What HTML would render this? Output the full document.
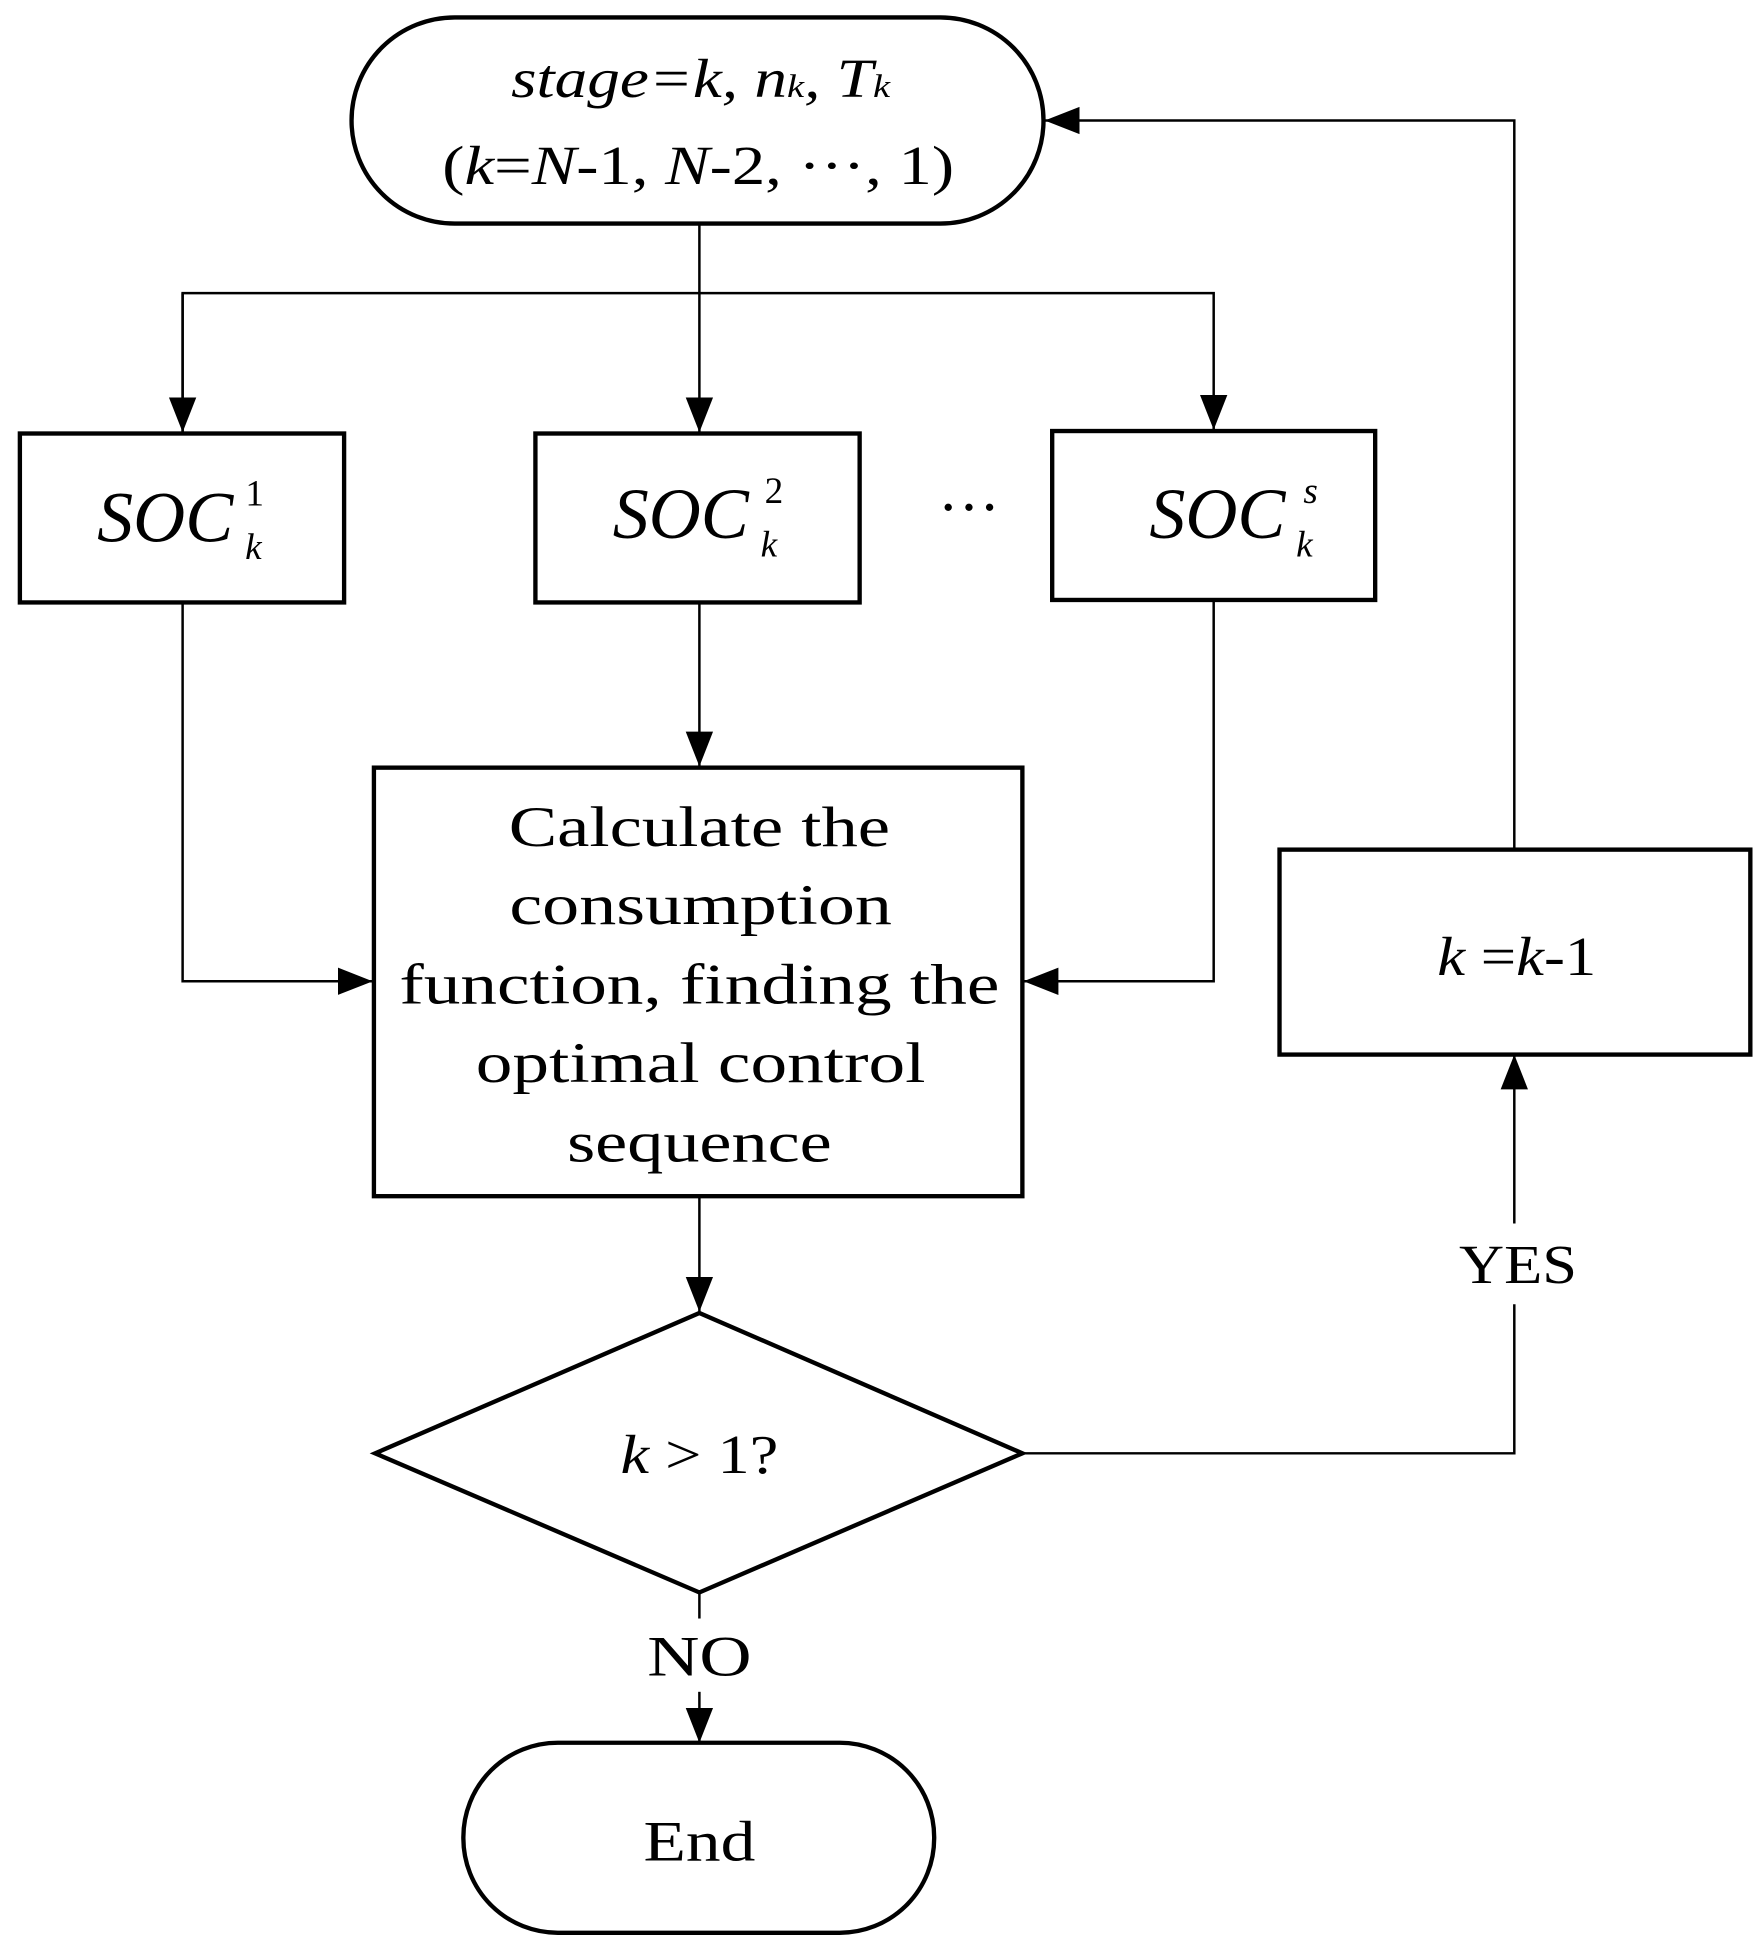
<!DOCTYPE html>
<html><head><style>html,body{margin:0;padding:0;background:#fff}svg{display:block}</style></head>
<body>
<svg width="1764" height="1939" viewBox="0 0 1420 1561" preserveAspectRatio="none" xmlns="http://www.w3.org/2000/svg" font-family="'Liberation Serif', serif">
<defs>
<marker id="b" markerWidth="28" markerHeight="28" refX="28" refY="14" orient="auto" markerUnits="userSpaceOnUse" viewBox="0 0 28 28"><path d="M0,3 L28,14 L0,25z" fill="#000"/></marker></defs>
<g fill="none" stroke="#000" stroke-width="2">
<line x1="563" y1="180" x2="563" y2="348" marker-end="url(#b)"/>
<polyline points="147,348 147,236 977,236 977,346" marker-end="url(#b)"/>
<line x1="147" y1="236" x2="147" y2="348" marker-end="url(#b)"/>
<polyline points="147,485 147,790 300,790" marker-end="url(#b)"/>
<polyline points="977,483 977,790 824,790" marker-end="url(#b)"/>
<line x1="563" y1="485" x2="563" y2="617" marker-end="url(#b)"/>
<line x1="563" y1="963" x2="563" y2="1056" marker-end="url(#b)"/>
<polyline points="823,1170 1219,1170 1219,1050"/>
<line x1="1219" y1="985" x2="1219" y2="849" marker-end="url(#b)"/>
<polyline points="1219,684 1219,97 841,97" marker-end="url(#b)"/>
<line x1="563" y1="1282" x2="563" y2="1303"/>
<line x1="563" y1="1362" x2="563" y2="1403" marker-end="url(#b)"/>
</g>
<g fill="#fff" stroke="#000" stroke-width="3.5">
<rect x="283" y="14" width="557" height="166" rx="83"/>
<rect x="16" y="349" width="261" height="136"/>
<rect x="431" y="349" width="261" height="136"/>
<rect x="847" y="347" width="260" height="136"/>
<rect x="301" y="618" width="522" height="345"/>
<rect x="1030" y="684" width="379" height="165"/>
<polygon points="563,1057 823,1170 563,1282 302,1170"/>
<rect x="373" y="1403" width="379" height="153" rx="76"/>
</g>
<g fill="#000" text-anchor="middle" font-size="44">
<text x="564" y="78" font-style="italic" textLength="305" lengthAdjust="spacingAndGlyphs">stage=k, n<tspan font-size="26">k</tspan>, T<tspan font-size="26">k</tspan></text>
<text x="562" y="148" textLength="412" lengthAdjust="spacingAndGlyphs">(<tspan font-style="italic">k</tspan>=<tspan font-style="italic">N</tspan>-1, <tspan font-style="italic">N</tspan>-2, ···, 1)</text>
<g font-style="italic" font-size="58">
<text x="133" y="436">SOC</text><text x="205" y="407" font-size="30" font-style="normal">1</text><text x="204" y="450" font-size="30">k</text>
<text x="548" y="433">SOC</text><text x="623" y="405" font-size="30" font-style="normal">2</text><text x="619" y="448" font-size="30">k</text>
<text x="980" y="433">SOC</text><text x="1055" y="405" font-size="30">s</text><text x="1050" y="448" font-size="30">k</text>
</g>
<text x="780" y="425" font-size="50">···</text>
<text x="563" y="681" font-size="46" textLength="307" lengthAdjust="spacingAndGlyphs">Calculate the</text>
<text x="564" y="744" font-size="46" textLength="308" lengthAdjust="spacingAndGlyphs">consumption</text>
<text x="563" y="808" font-size="46" textLength="483" lengthAdjust="spacingAndGlyphs">function, finding the</text>
<text x="564" y="871" font-size="46" textLength="362" lengthAdjust="spacingAndGlyphs">optimal control</text>
<text x="563" y="935" font-size="46" textLength="213" lengthAdjust="spacingAndGlyphs">sequence</text>
<text x="563" y="1186" font-size="44" textLength="127" lengthAdjust="spacingAndGlyphs"><tspan font-style="italic">k</tspan> &gt; 1?</text>
<text x="1221" y="785" font-size="44" textLength="128" lengthAdjust="spacingAndGlyphs"><tspan font-style="italic">k</tspan> =<tspan font-style="italic">k</tspan>-1</text>
<text x="1222" y="1033" font-size="44" textLength="95" lengthAdjust="spacingAndGlyphs">YES</text>
<text x="563" y="1349" font-size="46" textLength="84" lengthAdjust="spacingAndGlyphs">NO</text>
<text x="563" y="1498" font-size="46" textLength="90" lengthAdjust="spacingAndGlyphs">End</text>
</g>
</svg>
</body></html>
